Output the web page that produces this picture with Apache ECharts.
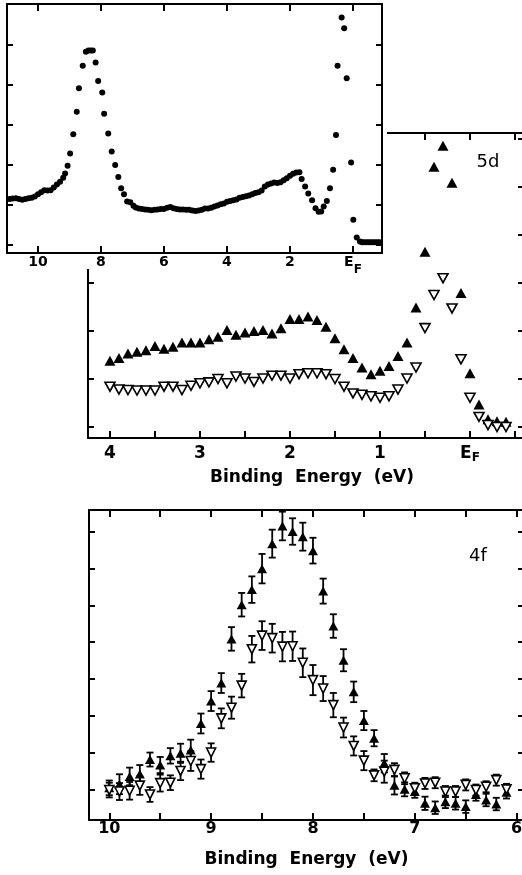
<!DOCTYPE html>
<html><head><meta charset="utf-8">
<script src="https://cdn.jsdelivr.net/npm/echarts@6/dist/echarts.min.js"></script>
<style>html,body{margin:0;padding:0;background:#fff}#c{width:522px;height:875px}</style>
</head><body><div id="c"></div>
<script>
// ---- Panel A (valence band overview, dots) ----
const energyA = [10.9,10.8,10.7,10.6,10.5,10.4,10.3,10.2,10.1,10.0,9.9,9.8,9.7,9.6,9.5,9.4,9.3,9.2,
 9.14,9.06,8.98,8.88,8.77,8.70,8.58,8.48,8.40,8.33,8.26,8.17,8.09,7.96,7.90,7.77,7.66,7.55,7.45,7.36,7.27,7.17,7.07,6.97,
 6.9,6.8,6.7,6.6,6.5,6.4,6.3,6.2,6.1,6.0,5.9,5.8,5.7,5.6,5.5,5.4,5.3,5.2,5.1,5.0,4.9,4.8,4.7,4.6,4.5,4.4,4.3,4.2,4.1,4.0,
 3.9,3.8,3.7,3.6,3.5,3.4,3.3,3.2,3.1,3.0,2.9,2.8,2.7,2.6,2.5,2.4,2.3,2.2,2.1,2.0,1.9,1.8,1.7,
 1.63,1.52,1.42,1.30,1.19,1.09,1.01,0.93,0.83,0.73,0.63,0.54,0.49,0.36,0.28,0.20,0.06,-0.01,-0.12,-0.22,-0.29,-0.36,-0.43,-0.50,-0.57,-0.64,-0.71,-0.78,-0.85];
const intensityA = [1.15,1.16,1.17,1.15,1.13,1.15,1.17,1.18,1.21,1.27,1.32,1.37,1.36,1.37,1.44,1.51,1.58,1.68,
 1.79,1.98,2.29,2.77,3.33,3.92,4.48,4.83,4.86,4.86,4.86,4.56,4.10,3.81,3.28,2.79,2.34,2.00,1.70,1.42,1.27,1.09,1.07,0.98,
 0.94,0.91,0.90,0.89,0.88,0.87,0.88,0.89,0.90,0.90,0.93,0.95,0.92,0.90,0.89,0.89,0.88,0.88,0.86,0.85,0.86,0.88,0.91,0.91,0.93,0.96,0.99,1.02,1.04,1.08,
 1.10,1.12,1.14,1.18,1.20,1.22,1.24,1.27,1.30,1.32,1.36,1.46,1.51,1.54,1.56,1.55,1.57,1.62,1.67,1.73,1.78,1.81,1.82,
 1.65,1.46,1.29,1.12,0.92,0.83,0.84,0.96,1.10,1.42,1.88,2.75,4.48,5.69,5.42,4.17,2.06,0.63,0.19,0.09,0.07,0.07,0.07,0.07,0.07,0.07,0.07,0.07,0.07];
const ticksA = [10,8,6,4,2,0];
const yTicksA = [0,1,2,3,4,5];

// ---- Panel B (5d) ----
const energyB = [4.0,3.9,3.8,3.7,3.6,3.5,3.4,3.3,3.2,3.1,3.0,2.9,2.8,2.7,2.6,2.5,2.4,2.3,2.2,2.1,2.0,1.9,1.8,1.7,1.6,1.5,1.4,1.3,1.2,1.1,1.0,0.9,0.8,0.7,0.6,0.5,0.4,0.3,0.2,0.1,0.0,-0.1,-0.2,-0.3,-0.4];
const d5Filled = [1.38,1.44,1.53,1.57,1.60,1.69,1.63,1.67,1.76,1.76,1.76,1.83,1.88,2.02,1.92,1.97,2.00,2.02,1.95,2.06,2.25,2.25,2.30,2.23,2.09,1.85,1.62,1.44,1.24,1.10,1.17,1.27,1.48,1.76,2.49,3.65,5.42,5.86,5.09,2.79,1.12,0.47,0.16,0.12,0.11];
const d5Open = [0.84,0.78,0.77,0.76,0.76,0.76,0.84,0.84,0.77,0.86,0.91,0.93,1.00,0.91,1.05,1.01,0.94,1.01,1.07,1.07,1.01,1.10,1.12,1.12,1.10,1.00,0.84,0.70,0.67,0.64,0.61,0.64,0.78,1.01,1.24,2.06,2.75,3.10,2.47,1.41,0.61,0.21,0.04,0.00,0.00];
const ticksB = [4,3.5,3,2.5,2,1.5,1,0.5,0,-0.5];
const labelsB = [4,3,2,1,0];
const yTicksB = [0,1,2,3,4,5,6];

// ---- Panel C (4f) ----
const energyC = [10.0,9.9,9.8,9.7,9.6,9.5,9.4,9.3,9.2,9.1,9.0,8.9,8.8,8.7,8.6,8.5,8.4,8.3,8.2,8.1,8.0,7.9,7.8,7.7,7.6,7.5,7.4,7.3,7.2,7.1,7.0,6.9,6.8,6.7,6.6,6.5,6.4,6.3,6.2,6.1];
const f4Filled = [0.04,0.14,0.35,0.42,0.81,0.66,0.91,0.98,1.07,1.79,2.40,2.89,4.09,5.02,5.43,6.00,6.68,7.16,7.01,6.87,6.49,5.39,4.44,3.51,2.65,1.87,1.39,0.71,0.11,0.00,-0.06,-0.38,-0.50,-0.34,-0.38,-0.47,-0.14,-0.29,-0.40,-0.08];
const f4FilledErr = [0.20,0.27,0.24,0.24,0.19,0.22,0.21,0.26,0.28,0.27,0.27,0.27,0.32,0.32,0.36,0.40,0.38,0.39,0.36,0.38,0.35,0.34,0.32,0.30,0.28,0.26,0.22,0.25,0.25,0.19,0.17,0.18,0.17,0.17,0.17,0.17,0.17,0.17,0.17,0.17];
const f4Open = [-0.02,-0.06,-0.04,0.10,-0.14,0.17,0.18,0.50,0.77,0.55,1.00,1.93,2.22,2.82,3.81,4.18,4.11,3.88,3.89,3.44,2.97,2.74,2.29,1.68,1.18,0.78,0.38,0.48,0.53,0.30,0.03,0.16,0.18,-0.06,-0.06,0.12,-0.02,0.07,0.25,0.00];
const f4OpenErr = [0.20,0.23,0.24,0.25,0.20,0.23,0.20,0.25,0.27,0.26,0.25,0.27,0.30,0.32,0.36,0.39,0.39,0.40,0.40,0.39,0.41,0.34,0.33,0.27,0.26,0.26,0.16,0.30,0.18,0.16,0.15,0.15,0.15,0.15,0.15,0.15,0.15,0.15,0.15,0.15];
const ticksC = [10,9.5,9,8.5,8,7.5,7,6.5,6];
const labelsC = [10,9,8,7,6];
const yTicksC = [0,1,2,3,4,5,6,7];

const FONT = 'DejaVu Sans';
const BLACK = '#000';

function xAx(gi, min, max, pos, ticks, labels, lab) {
  lab = lab || {};
  const o = {
    type: 'value', gridIndex: gi, position: pos, inverse: true, min: min, max: max,
    axisLine: {show: true, onZero: false, lineStyle: {color: BLACK, width: 2}},
    axisTick: {show: true, inside: true, length: 7, customValues: ticks, lineStyle: {color: BLACK, width: 2}},
    splitLine: {show: false},
    z: lab.z || 2
  };
  if (labels) {
    o.axisLabel = {
      show: true, customValues: labels, margin: lab.margin, color: BLACK,
      fontFamily: FONT, fontWeight: 'bold', fontSize: lab.size,
      formatter: function (v) { return v === 0 ? '{e|E}{f|F}' : String(v); },
      rich: {
        e: {fontFamily: FONT, fontWeight: 'bold', fontSize: lab.size, color: BLACK, verticalAlign: 'top'},
        f: {fontFamily: FONT, fontWeight: 'bold', fontSize: 12, color: BLACK, verticalAlign: 'top', padding: [lab.fpad, 0, 0, 0]}
      }
    };
  } else {
    o.axisLabel = {show: false};
  }
  if (lab.name) {
    o.name = lab.name; o.nameLocation = 'middle'; o.nameGap = lab.nameGap;
    o.nameTextStyle = {fontFamily: FONT, fontWeight: 'bold', fontSize: 17, color: BLACK, padding: lab.namePad || 0};
  }
  return o;
}
function yAx(gi, min, max, pos, ticks, z) {
  return {
    type: 'value', gridIndex: gi, position: pos, min: min, max: max,
    axisLine: {show: true, onZero: false, lineStyle: {color: BLACK, width: 2}},
    axisTick: {show: true, inside: true, length: 6, customValues: ticks, lineStyle: {color: BLACK, width: 2}},
    axisLabel: {show: false}, splitLine: {show: false}, z: z || 2
  };
}
function errBars(xs, ys, es) {
  return {
    type: 'custom', xAxisIndex: 4, yAxisIndex: 4, z: 2, silent: true,
    data: xs.map(function (x, i) { return [x, ys[i], es[i]]; }),
    encode: {x: 0, y: 1},
    renderItem: function (params, api) {
      const x = api.value(0), y = api.value(1), e = api.value(2);
      const p1 = api.coord([x, y + e]), p2 = api.coord([x, y - e]);
      const w = 3.5, st = {stroke: BLACK, lineWidth: 1.8};
      return {type: 'group', children: [
        {type: 'line', shape: {x1: p1[0], y1: p1[1], x2: p2[0], y2: p2[1]}, style: st},
        {type: 'line', shape: {x1: p1[0] - w, y1: p1[1], x2: p1[0] + w, y2: p1[1]}, style: st},
        {type: 'line', shape: {x1: p2[0] - w, y1: p2[1], x2: p2[0] + w, y2: p2[1]}, style: st}
      ]};
    }
  };
}
const pairs = function (xs, ys) { return xs.map(function (x, i) { return [x, ys[i]]; }); };

const chart = echarts.init(document.getElementById('c'), null, {renderer: 'canvas'});
chart.setOption({
  backgroundColor: '#fff',
  animation: false,
  grid: [
    {left: 7, top: 4, width: 375, height: 249, outerBoundsMode: 'none'},
    {left: 88, top: 133, width: 436, height: 305, outerBoundsMode: 'none'},
    {left: 89, top: 510, width: 435, height: 310, outerBoundsMode: 'none'}
  ],
  xAxis: [
    xAx(0, -0.921, 10.984, 'bottom', ticksA, ticksA, {size: 14, margin: 2, fpad: 9, z: 110}),
    xAx(0, -0.921, 10.984, 'top', ticksA, null, {z: 110}),
    xAx(1, -0.6, 4.244, 'bottom', ticksB, labelsB, {size: 17, margin: 7, fpad: 7, name: 'Binding  Energy  (eV)', nameGap: 31, namePad: [0, 0, 0, 12]}),
    xAx(1, -0.6, 4.244, 'top', ticksB, null, {}),
    xAx(2, 5.928, 10.199, 'bottom', ticksC, labelsC, {size: 16, margin: 1, fpad: 7, name: 'Binding  Energy  (eV)', nameGap: 31}),
    xAx(2, 5.928, 10.199, 'top', ticksC, null, {})
  ],
  yAxis: [
    yAx(0, -0.2, 6.025, 'left', yTicksA, 110),
    yAx(0, -0.2, 6.025, 'right', yTicksA, 110),
    yAx(1, -0.229, 6.125, 'left', yTicksB),
    yAx(1, -0.229, 6.125, 'right', yTicksB),
    yAx(2, -0.834, 7.595, 'left', yTicksC),
    yAx(2, -0.834, 7.595, 'right', yTicksC)
  ],
  graphic: [
    {type: 'rect', z: 100, shape: {x: 0, y: 0, width: 387, height: 269}, style: {fill: '#fff'}},
    {type: 'text', z: 100, x: 488, y: 162, style: {text: '5d', font: '18px "DejaVu Sans"', fill: BLACK, align: 'center', verticalAlign: 'middle'}},
    {type: 'text', z: 100, x: 478, y: 556, style: {text: '4f', font: '18px "DejaVu Sans"', fill: BLACK, align: 'center', verticalAlign: 'middle'}}
  ],
  series: [
    {type: 'scatter', xAxisIndex: 0, yAxisIndex: 0, z: 120, silent: true, symbol: 'circle', symbolSize: 6,
     itemStyle: {color: BLACK, opacity: 1}, data: pairs(energyA, intensityA)},
    {type: 'scatter', xAxisIndex: 2, yAxisIndex: 2, z: 3, silent: true, symbol: 'triangle', symbolSize: [11, 10],
     itemStyle: {color: BLACK, opacity: 1}, data: pairs(energyB, d5Filled)},
    {type: 'scatter', xAxisIndex: 2, yAxisIndex: 2, z: 3, silent: true, symbol: 'triangle', symbolRotate: 180, symbolSize: [10, 9],
     itemStyle: {color: '#fff', borderColor: BLACK, borderWidth: 1.6, opacity: 1}, data: pairs(energyB, d5Open)},
    errBars(energyC, f4Filled, f4FilledErr),
    errBars(energyC, f4Open, f4OpenErr),
    {type: 'scatter', xAxisIndex: 4, yAxisIndex: 4, z: 3, silent: true, symbol: 'triangle', symbolSize: [10, 9],
     itemStyle: {color: BLACK, opacity: 1}, data: pairs(energyC, f4Filled)},
    {type: 'scatter', xAxisIndex: 4, yAxisIndex: 4, z: 4, silent: true, symbol: 'triangle', symbolRotate: 180, symbolSize: [9, 9],
     itemStyle: {color: '#fff', borderColor: BLACK, borderWidth: 1.6, opacity: 1}, data: pairs(energyC, f4Open)}
  ]
});
</script>
</body></html>
